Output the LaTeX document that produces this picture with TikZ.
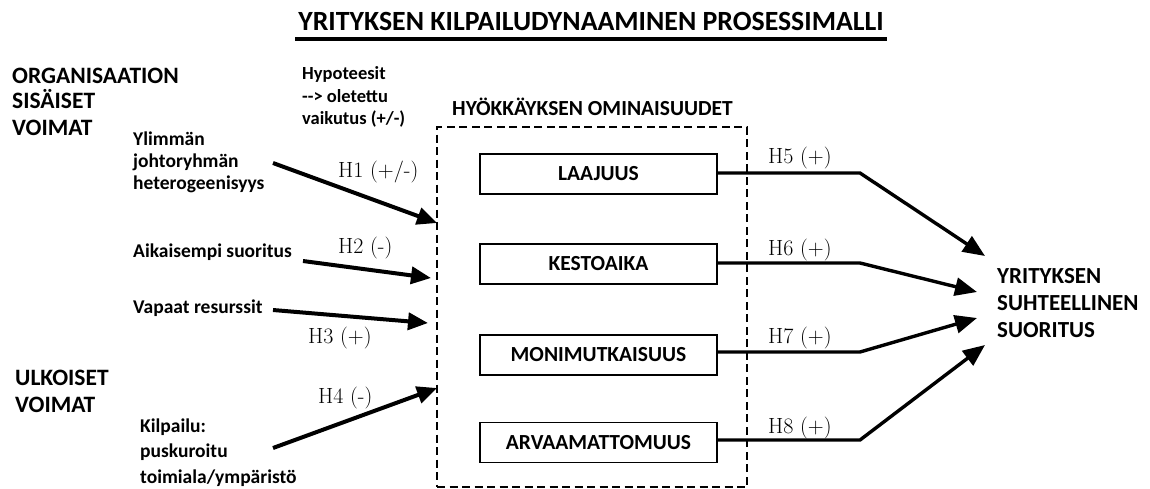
\documentclass[tikz,border=0pt]{standalone}
\usepackage{fontspec}
\newfontfamily\calfont{Carlito}
\usetikzlibrary{arrows.meta}
\tikzset{
  txt/.style={font=\calfont\bfseries, anchor=base west, inner sep=0pt},
  big/.style={txt, font=\calfont\bfseries\fontsize{23.5}{27}\selectfont},
  small/.style={txt, font=\calfont\bfseries\fontsize{19.5}{23}\selectfont},
  hyp/.style={txt, font=\calfont\bfseries\fontsize{18.5}{22}\selectfont},
  hlabel/.style={anchor=base west, inner sep=0pt, font=\fontsize{22}{26}\selectfont},
  attbox/.style={draw, line width=1.8pt, minimum width=237pt, minimum height=40pt, inner sep=0pt,
                 font=\calfont\bfseries\fontsize{21.5}{25}\selectfont},
  tgt/.style={txt, font=\calfont\bfseries\fontsize{23}{27}\selectfont},
  dbox/.style={draw, line width=2.6pt, dash pattern=on 8pt off 4.5pt},
  inarrow/.style={line width=4pt, -{Triangle[length=20pt,width=17pt]}},
  outarrow/.style={line width=3.4pt, line join=miter, -{Triangle[length=22pt,width=18pt]}}
}
\begin{document}
\begin{tikzpicture}[x=1pt,y=-1pt]
\useasboundingbox (0,0) rectangle (1150,488);
% title
\node[anchor=base, inner sep=0pt, font=\calfont\bfseries\fontsize{27.8}{32}\selectfont] (title) at (591,30) {YRITYKSEN KILPAILUDYNAAMINEN PROSESSIMALLI};
\draw[line width=4pt] (295,39) -- (887,39);
% left group labels
\node[big] (org1) at (12,83) {ORGANISAATION};
\node[big] (org2) at (12,108) {SISÄISET};
\node[big] (org3) at (12,135) {VOIMAT};
\node[big] (ulk1) at (15,385) {ULKOISET};
\node[big] (ulk2) at (15,412) {VOIMAT};
% hypotheses note
\node[hyp] (hyp1) at (302,79) {Hypoteesit};
\node[hyp] (hyp2) at (302,102) {-{}-> oletettu};
\node[hyp] (hyp3) at (302,124) {vaikutus (+/-)};
% sources
\node[small] (yl1) at (133,145) {Ylimmän};
\node[small] (yl2) at (133,167) {johtoryhmän};
\node[small] (yl3) at (133,189) {heterogeenisyys};
\node[small] (aik) at (133,257) {Aikaisempi suoritus};
\node[small] (vap) at (133,313) {Vapaat resurssit};
\node[small] (kil1) at (140,432) {Kilpailu:};
\node[small] (kil2) at (140,457) {puskuroitu};
\node[small] (kil3) at (140,483) {toimiala/ympäristö};
% attack characteristics
\node[txt, font=\calfont\bfseries\fontsize{21.5}{25}\selectfont] (hyok) at (452,115) {HYÖKKÄYKSEN OMINAISUUDET};
\node[dbox, minimum width=310pt, minimum height=360pt, inner sep=0pt] (att) at (592,307) {};
\node[attbox] (laa) at (598.5,174) {LAAJUUS};
\node[attbox] (kes) at (598.5,264) {KESTOAIKA};
\node[attbox] (mon) at (598.5,355) {MONIMUTKAISUUS};
\node[attbox] (arv) at (598.5,442.5) {ARVAAMATTOMUUS};
% target
\node[tgt] (tg1) at (997,283) {YRITYKSEN};
\node[tgt] (tg2) at (997,310) {SUHTEELLINEN};
\node[tgt] (tg3) at (997,337) {SUORITUS};
% coordinates
\coordinate (s1) at (273,163); \coordinate (e1) at (437,223);
\coordinate (s2) at (303,261); \coordinate (e2) at (431,278);
\coordinate (s3) at (273,310); \coordinate (e3) at (428,323);
\coordinate (s4) at (273,448); \coordinate (e4) at (437,388);
\coordinate (b5) at (860,173); \coordinate (t5) at (985,256);
\coordinate (b6) at (860,263); \coordinate (t6) at (977,292);
\coordinate (b7) at (860,352); \coordinate (t7) at (977,318);
\coordinate (b8) at (860,440); \coordinate (t8) at (985,345);
% input arrows
\draw[inarrow] (s1) -- (e1);
\draw[inarrow] (s2) -- (e2);
\draw[inarrow] (s3) -- (e3);
\draw[inarrow] (s4) -- (e4);
\node[hlabel] (h1) at (338,177) {H1 (+/-)};
\node[hlabel] (h2) at (338,253) {H2 (-)};
\node[hlabel] (h3) at (308,343) {H3 (+)};
\node[hlabel] (h4) at (318,403) {H4 (-)};
% output arrows
\draw[outarrow] (laa.east |- b5) -- (b5) -- (t5);
\draw[outarrow] (kes.east |- b6) -- (b6) -- (t6);
\draw[outarrow] (mon.east |- b7) -- (b7) -- (t7);
\draw[outarrow] (arv.east |- b8) -- (b8) -- (t8);
\node[hlabel] (h5) at (768,163) {H5 (+)};
\node[hlabel] (h6) at (768,255) {H6 (+)};
\node[hlabel] (h7) at (768,343) {H7 (+)};
\node[hlabel] (h8) at (768,433) {H8 (+)};
\end{tikzpicture}
\end{document}
